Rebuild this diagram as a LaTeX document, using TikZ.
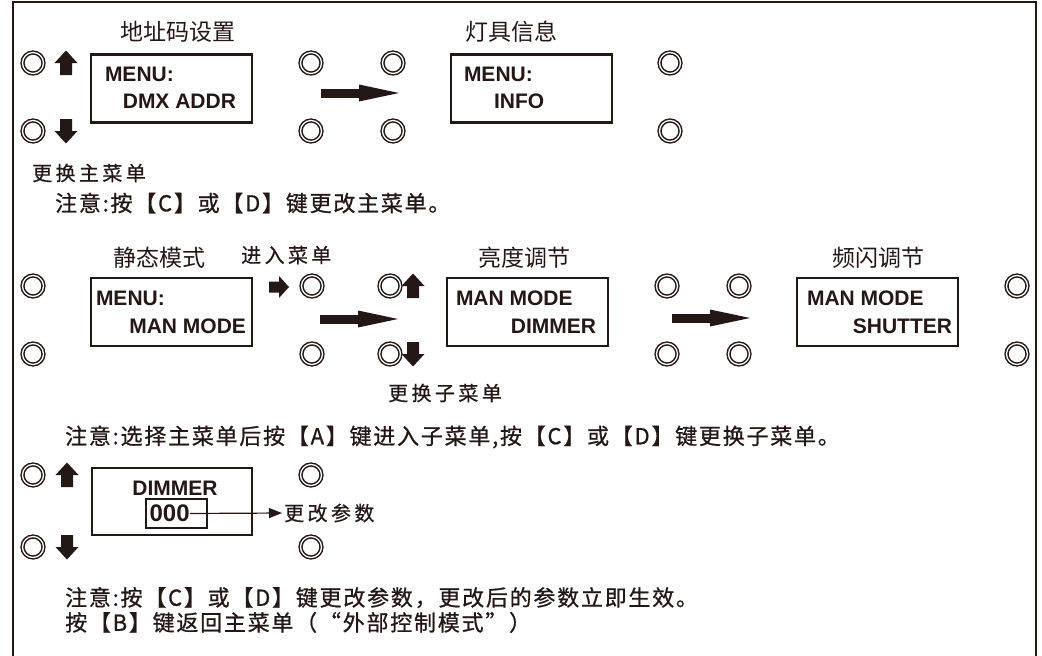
\documentclass[tikz,border=0pt]{standalone}
\usepackage{fontspec}
\setmainfont{Liberation Sans}
\newfontfamily\cjkfont{Noto Sans CJK SC}
\newfontfamily\hintfont{Noto Sans CJK SC}[LetterSpace=17, FakeBold=0.6]
\newfontfamily\notefont{Noto Sans CJK SC}[LetterSpace=8, FakeBold=0.8]
\usetikzlibrary{arrows.meta,positioning}

\definecolor{ink}{HTML}{231815}

\def\lcdW{161pt}
\def\lcdH{68pt}

\tikzset{
    btn/.style = {circle, draw=ink, double=white, double distance=1.3pt,
        line width=1.5pt, minimum size=21pt, inner sep=0pt},
    lcd/.style = {draw=ink, line width=2.4pt, minimum width=\lcdW,
        minimum height=\lcdH, inner sep=0pt},
    lcdtext/.style = {inner sep=0pt, text=ink,
        font=\bfseries\fontsize{21}{21}\selectfont},
    title/.style = {inner sep=0pt, text=ink,
        font=\cjkfont\fontsize{23}{23}\selectfont},
    hint/.style = {inner sep=0pt, anchor=west, text=ink,
        font=\hintfont\fontsize{20}{20}\selectfont},
    note/.style = {inner sep=0pt, anchor=west, text=ink, align=left,
        font=\notefont\fontsize{22}{25}\selectfont},
    bigarrow/.style = {draw=ink, line width=9pt,
        -{Triangle[length=40pt, width=17pt, line width=0pt]}},
    keyup/.pic = {
        \fill[ink] (-6,12) -- (-6,0) -- (-11.5,0) -- (0,-12.5)
            -- (11.5,0) -- (6,0) -- (6,12) -- cycle;
    },
    keydown/.pic = {
        \fill[ink] (-6,-12) -- (-6,0) -- (-11.5,0) -- (0,12.5)
            -- (11.5,0) -- (6,0) -- (6,-12) -- cycle;
    },
    keyright/.pic = {
        \fill[ink] (-10,-5.5) -- (0,-5.5) -- (0,-11) -- (10,0)
            -- (0,11) -- (0,5.5) -- (-10,5.5) -- cycle;
    },
}

\begin{document}
\begin{tikzpicture}[x=1pt, y=-1pt]
    \useasboundingbox (0,0) rectangle (1042,656);
    % frame, open at the bottom
    \draw [ink, line width=1.8pt]
    (13,656) -- (13,2) -- (1036,2) -- (1036,656)
    ;

    %% row 1: main menus
    \foreach \x/\n in {33/a, 311/b, 393/c, 670/d} {
        \node [btn] (r1\n1) at (\x,63) {};
        \node [btn] (r1\n2) at (\x,131) {};
    }
    \pic at (66,63) {keyup};
    \pic at (66,131) {keydown};

    \node [title] (tAddr) at (178,32) {地址码设置};
    \node [lcd] (mAddr) at (171.5,88.5) {};
    \node [lcdtext, anchor=base west] (mAddrA)
        at ([xshift=15pt, yshift=-28pt]mAddr.north west) {MENU:};
    \node [lcdtext, anchor=base east] (mAddrB)
        at ([xshift=-17pt, yshift=-55pt]mAddr.north east) {DMX ADDR};

    \coordinate (arA1) at (321,93);
    \coordinate (arA2) at (399,93);
    \draw [bigarrow] (arA1) -- (arA2);

    \node [title] (tInfo) at (511,32) {灯具信息};
    \node [lcd] (mInfo) at (531.5,88.5) {};
    \node [lcdtext, anchor=base west] (mInfoA)
        at ([xshift=14pt, yshift=-28pt]mInfo.north west) {MENU:};
    \node [lcdtext, anchor=base west] (mInfoB)
        at ([xshift=44pt, yshift=-55pt]mInfo.north west) {INFO};

    \node [hint] (hMain) at (32,173) {更换主菜单};
    \node [note] (nMain) at (55,203) {注意:按【C】或【D】键更改主菜单。};

    %% row 2: sub menus
    \foreach \x/\n in {33/a, 312/b, 390/c, 667/d, 739/e, 1017/f} {
        \node [btn] (r2\n1) at (\x,286) {};
        \node [btn] (r2\n2) at (\x,354) {};
    }
    \pic at (279,287) {keyright};
    \pic at (413,286) {keyup};
    \pic at (413,354) {keydown};

    \node [title] (tMan) at (159,258) {静态模式};
    \node [hint] (hEnter) at (241,255) {进入菜单};
    \node [lcd] (mMan) at (171.5,312) {};
    \node [lcdtext, anchor=base west] (mManA)
        at ([xshift=6pt, yshift=-29pt]mMan.north west) {MENU:};
    \node [lcdtext, anchor=base east] (mManB)
        at ([xshift=-7pt, yshift=-57pt]mMan.north east) {MAN MODE};

    \coordinate (arB1) at (320,319);
    \coordinate (arB2) at (398,319);
    \draw [bigarrow] (arB1) -- (arB2);

    \node [title] (tDim) at (524,258) {亮度调节};
    \node [lcd] (mDim) at (527.5,312) {};
    \node [lcdtext, anchor=base west] (mDimA)
        at ([xshift=10pt, yshift=-29pt]mDim.north west) {MAN MODE};
    \node [lcdtext, anchor=base east] (mDimB)
        at ([xshift=-13pt, yshift=-57pt]mDim.north east) {DIMMER};

    \coordinate (arC1) at (672,318);
    \coordinate (arC2) at (750,318);
    \draw [bigarrow] (arC1) -- (arC2);

    \node [title] (tStrobe) at (878,258) {频闪调节};
    \node [lcd] (mStrobe) at (877.5,312) {};
    \node [lcdtext, anchor=base west] (mStrobeA)
        at ([xshift=11pt, yshift=-29pt]mStrobe.north west) {MAN MODE};
    \node [lcdtext, anchor=base east] (mStrobeB)
        at ([xshift=-7pt, yshift=-57pt]mStrobe.north east) {SHUTTER};

    \node [hint] (hSub) at (388,393) {更换子菜单};
    \node [note] (nSub) at (65,437)
        {注意:选择主菜单后按【A】键进入子菜单,按【C】或【D】键更换子菜单。};

    %% row 3: value
    \foreach \x/\n in {33/a, 311/b} {
        \node [btn] (r3\n1) at (\x,475) {};
        \node [btn] (r3\n2) at (\x,547) {};
    }
    \pic at (67,475) {keyup};
    \pic at (67,547) {keydown};

    \node [draw=ink, line width=1.2pt, minimum width=160pt, minimum height=67pt,
        inner sep=0pt] (mVal) at (172,501.5) {};
    \node [lcdtext] (vName) at (175,488) {DIMMER};
    \node [draw=ink, line width=1.2pt, minimum width=61pt, minimum height=29pt,
        inner sep=0pt] (vBox) at (176.5,513.5) {};
    \node [lcdtext, anchor=west, font=\bfseries\fontsize{24}{24}\selectfont]
        (vNum) at ([xshift=4pt]vBox.west) {000};
    \node [hint] (hVal) at (284,513) {更改参数};
    \draw [ink, line width=1.2pt, -{Triangle[length=13pt, width=10pt]},
        shorten >=2pt] (vNum.east) -- (hVal.west);

    \node [note] (nVal) at (65,610)
        {注意:按【C】或【D】键更改参数，更改后的参数立即生效。\\
         按【B】键返回主菜单（“外部控制模式”）};
\end{tikzpicture}
\end{document}
